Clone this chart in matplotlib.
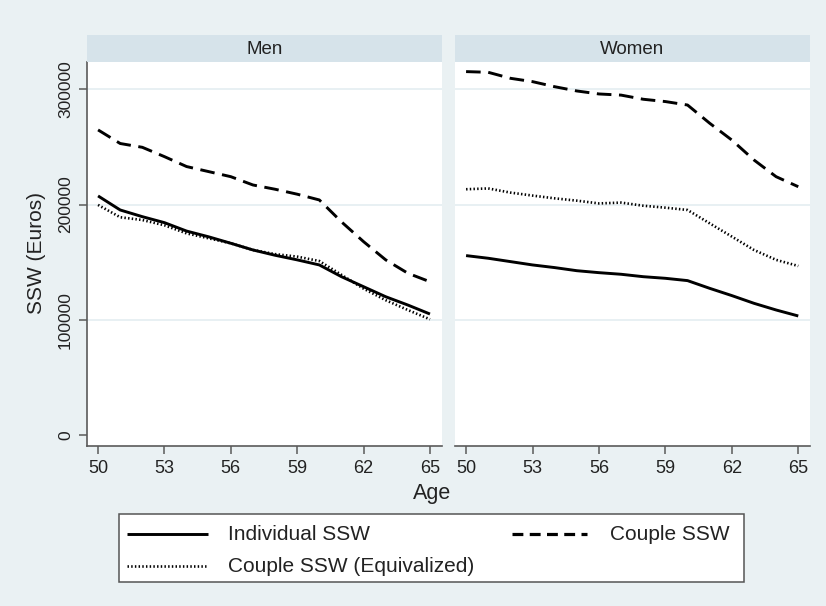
import matplotlib
matplotlib.use("Agg")
import matplotlib.pyplot as plt
from matplotlib.patches import Rectangle
from matplotlib.lines import Line2D

plt.rcParams['font.family'] = ['Liberation Sans', 'DejaVu Sans']

ages = list(range(50, 66))

men_individual = [207.5, 195.3, 189.5, 184.3, 177.0, 172.0, 166.4, 160.6, 156.0, 152.0,
                  147.6, 137.4, 128.7, 120.0, 112.8, 105.0]
men_equivalized = [199.7, 189.0, 186.6, 182.0, 175.0, 170.7, 166.4, 160.6, 157.0, 154.8,
                   151.0, 139.0, 127.0, 117.0, 108.5, 100.4]
men_couple = [264.8, 253.0, 249.7, 241.6, 233.0, 228.6, 224.2, 217.0, 213.3, 209.0,
              204.0, 185.0, 167.8, 152.0, 140.4, 133.0]

women_individual = [155.7, 153.4, 150.5, 147.6, 145.3, 142.6, 140.9, 139.5, 137.4, 136.0,
                    134.0, 127.3, 121.0, 114.3, 108.5, 103.3]
women_equivalized = [213.3, 214.0, 210.4, 207.8, 205.4, 203.4, 201.0, 201.7, 199.0, 197.3,
                     195.3, 183.7, 172.2, 160.6, 152.0, 146.7]
women_couple = [315.4, 314.8, 309.6, 306.7, 302.3, 298.6, 296.0, 295.0, 291.4, 289.4,
                286.4, 270.6, 256.0, 238.7, 224.2, 215.5]

panels = ["Men", "Women"]
series_labels = ["Individual SSW", "Couple SSW", "Couple SSW (Equivalized)"]
x_ticks = [50, 53, 56, 59, 62, 65]
y_ticks = [0, 100000, 200000, 300000]

W, H = 826, 606
bg = "#EAF1F3"
strip_col = "#D6E3EA"
grid_col = "#E6EFF2"
spine_col = "#5A5A5A"
text_col = "#222222"

fig = plt.figure(figsize=(W / 100, H / 100), dpi=100, facecolor=bg)

def fx(px):
    return px / W

def fy(py):
    return 1 - py / H

plot_top, plot_bot = 61.7, 446.0
strip_top = 35.0
lefts = [87.0, 455.0]
rights = [441.7, 810.0]

data = {
    "Men": (men_individual, men_couple, men_equivalized),
    "Women": (women_individual, women_couple, women_equivalized),
}

styles = [
    dict(color="black", lw=2.1, linestyle="-"),
    dict(color="black", lw=2.1, linestyle=(0, (5, 2.6))),
    dict(color="black", lw=1.9, linestyle=(0, (0.55, 0.85))),
]

for i, name in enumerate(panels):
    l, r = lefts[i], rights[i]
    ax = fig.add_axes([fx(l), fy(plot_bot), fx(r) - fx(l), fy(plot_top) - fy(plot_bot)])
    ax.set_facecolor("white")
    ax.set_xlim(49.5, 65.53)
    ax.set_ylim(-9550, 324000)
    for yv in y_ticks[1:]:
        ax.axhline(yv, color=grid_col, lw=1.3, zorder=0)
    vals = data[name]
    for s, st in zip(vals, styles):
        ax.plot(ages, [v * 1000 for v in s], **st, zorder=3,
                solid_capstyle="butt", dash_capstyle="butt")
    for sp in ["top", "right"]:
        ax.spines[sp].set_visible(False)
    ax.spines["bottom"].set_color(spine_col)
    ax.spines["bottom"].set_linewidth(1.2)
    ax.set_xticks(x_ticks)
    ax.set_xticklabels([str(t) for t in x_ticks], fontsize=13, color=text_col)
    ax.tick_params(axis="x", length=6, width=1.1, color=spine_col, pad=4)
    if i == 0:
        ax.spines["left"].set_color(spine_col)
        ax.spines["left"].set_linewidth(1.2)
        ax.set_yticks(y_ticks)
        ax.set_yticklabels([str(t) for t in y_ticks], fontsize=12.5, color=text_col,
                           rotation=90, va="center")
        ax.tick_params(axis="y", length=6, width=1.1, color=spine_col, pad=4)
    else:
        ax.spines["left"].set_visible(False)
        ax.set_yticks(y_ticks)
        ax.set_yticklabels([])
        ax.tick_params(axis="y", length=0)
    # strip
    fig.patches.append(Rectangle((fx(l), fy(plot_top)), fx(r) - fx(l), fy(strip_top) - fy(plot_top),
                                 transform=fig.transFigure, facecolor=strip_col, edgecolor="none"))
    fig.text((fx(l) + fx(r)) / 2, (fy(strip_top) + fy(plot_top)) / 2 - 0.002, name,
             ha="center", va="center", fontsize=13.5, color=text_col)

fig.text(fx(432), fy(494), "Age", ha="center", va="center", fontsize=15.5, color=text_col)
fig.text(fx(37), fy(253), "SSW (Euros)", ha="center", va="center", rotation=90,
         fontsize=15, color=text_col)

# legend (drawn in figure pixel coordinates)
fig.patches.append(Rectangle((fx(119), fy(582)), fx(744) - fx(119), fy(514) - fy(582),
                             transform=fig.transFigure, facecolor="white",
                             edgecolor="#555555", lw=1.1, zorder=5))
legend_styles = [
    styles[0],
    dict(color="black", lw=2.3, linestyle=(0, (3.4, 2.0))),
    styles[2],
]
legend_items = [
    (legend_styles[0], series_labels[0], 127, 208, 228, 534),
    (legend_styles[1], series_labels[1], 512, 587, 610, 534),
    (legend_styles[2], series_labels[2], 127, 206, 228, 566),
]
for st, lab, x0, x1, xt, yy in legend_items:
    fig.lines.append(Line2D([fx(x0), fx(x1)], [fy(yy), fy(yy)], transform=fig.transFigure,
                            zorder=6, solid_capstyle="butt", dash_capstyle="butt", **st))
    fig.text(fx(xt), fy(yy), lab, ha="left", va="center", fontsize=15, color=text_col,
             zorder=6)

fig.savefig("out.png", dpi=100, facecolor=bg)
